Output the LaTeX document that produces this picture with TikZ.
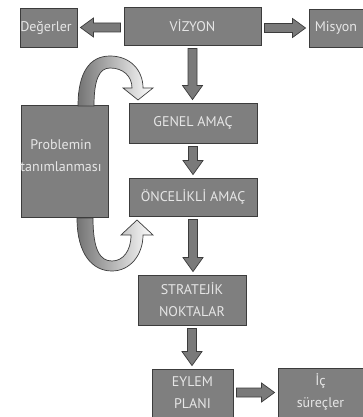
\documentclass[tikz,border=0pt]{standalone}
\usepackage{fontspec}
\setmainfont{PT Sans}
\usetikzlibrary{calc}
\definecolor{boxfill}{HTML}{7F7F7F}
\definecolor{boxline}{HTML}{3C3C3C}
\definecolor{boxtext}{HTML}{E6E6E6}
\definecolor{arrfill}{HTML}{7A7A7A}
\tikzset{
  box/.style={draw=boxline, fill=boxfill, text=boxtext, line width=0.9pt, inner sep=0pt,
    align=center, font=\fontsize{14}{22}\selectfont},
  boxtxt/.style={text=boxtext, inner sep=0pt, align=center, font=\fontsize{14}{22}\selectfont},
  barrow/.style={draw=boxline, fill=arrfill, line width=0.7pt, line join=miter},
  curvarrow/.style={draw=boxline, line width=0.7pt, left color=arrfill!95!black, right color=white}
}
\newcommand\downarr[2]{\path[barrow] let \p1=($(#1.south)+(0pt,-3pt)$), \p2=($(#2.north)+(0pt,3pt)$) in
  (\x1-4.5pt,\y1) -- (\x1+4.5pt,\y1) -- (\x1+4.5pt,\y2+14pt) -- (\x1+10pt,\y2+14pt) -- (\x1,\y2)
  -- (\x1-10pt,\y2+14pt) -- (\x1-4.5pt,\y2+14pt) -- cycle;}
\newcommand\rightarr[2]{\path[barrow] let \p1=($(#1.east)+(3pt,0pt)$), \p2=($(#2.west)+(-3pt,0pt)$) in
  (\x1,\y2+4.5pt) -- (\x2-13pt,\y2+4.5pt) -- (\x2-13pt,\y2+9.5pt) -- (\x2,\y2)
  -- (\x2-13pt,\y2-9.5pt) -- (\x2-13pt,\y2-4.5pt) -- (\x1,\y2-4.5pt) -- cycle;}
\newcommand\leftarr[2]{\path[barrow] let \p1=($(#1.west)+(-3pt,0pt)$), \p2=($(#2.east)+(3pt,0pt)$) in
  (\x1,\y2+4.5pt) -- (\x2+13pt,\y2+4.5pt) -- (\x2+13pt,\y2+9.5pt) -- (\x2,\y2)
  -- (\x2+13pt,\y2-9.5pt) -- (\x2+13pt,\y2-4.5pt) -- (\x1,\y2-4.5pt) -- cycle;}
\begin{document}
\begin{tikzpicture}[x=1pt,y=-1pt]
\useasboundingbox[fill=white] (0,0) rectangle (363,417);
% boxes
\node[box, minimum width=57pt, minimum height=39pt] (deg) at (48.5,27.5) {};
\node[boxtxt] (degt) at (46,27.5) {Değerler};
\node[box, minimum width=137pt, minimum height=38pt] (viz) at (192.5,26) {VİZYON};
\node[box, minimum width=54pt, minimum height=38pt] (mis) at (336,28) {Misyon};
\node[box, minimum width=128pt, minimum height=40pt] (gen) at (193,123) {GENEL AMAÇ};
\node[box, minimum width=87pt, minimum height=112pt] (prob) at (64.5,161) {};
\node[boxtxt] (probt) at (61,156) {Problemin\\tanımlanması};
\node[box, minimum width=128pt, minimum height=38pt] (onc) at (193,197) {ÖNCELİKLİ AMAÇ};
\node[box, minimum width=108pt, minimum height=50pt] (str) at (192,300) {STRATEJİK\\NOKTALAR};
\node[box, minimum width=81pt, minimum height=48pt] (eyl) at (192.5,393) {EYLEM\\PLANI};
\node[box, minimum width=85pt, minimum height=49pt] (ic) at (320.5,392.5) {İç\\süreçler};
% straight block arrows
\leftarr{viz}{deg}
\rightarr{viz}{mis}
\downarr{viz}{gen}
\downarr{gen}{onc}
\downarr{onc}{str}
\downarr{str}{eyl}
\rightarr{eyl}{ic}
% curved arrows
\path[curvarrow] (78,106) .. controls (78,72) and (90,56) .. (110,56)
  .. controls (130,56) and (143,70) .. (143,88) -- (153,88) -- (138,100) -- (123,88) -- (132,88)
  .. controls (132,76) and (123,68) .. (110,68) .. controls (99,68) and (94,80) .. (94,106) -- cycle;
\path[curvarrow] (77,218) .. controls (77,255) and (93,271) .. (112,271)
  .. controls (130,271) and (143,255) .. (143,235) -- (153,235) -- (137,220) -- (121,235) -- (131,235)
  .. controls (131,251) and (123,261) .. (112,261) .. controls (100,261) and (93,250) .. (93,218) -- cycle;
\end{tikzpicture}
\end{document}
